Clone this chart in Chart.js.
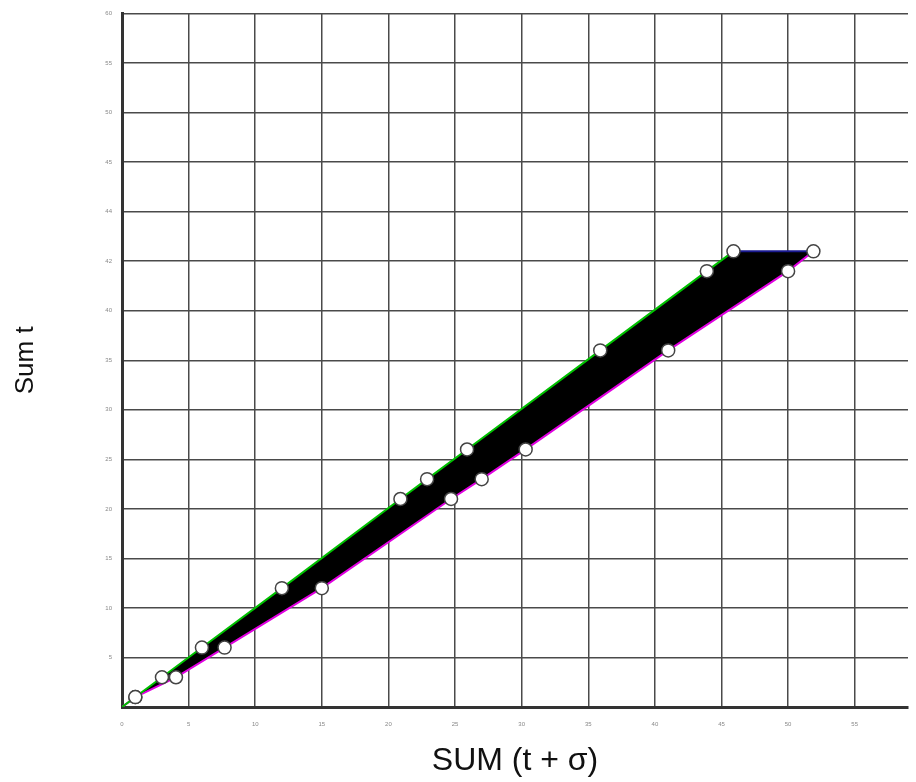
<!DOCTYPE html>
<html>
<head>
<meta charset="utf-8">
<script src="https://cdn.jsdelivr.net/npm/chart.js@4/dist/chart.umd.min.js"></script>
<style>
  html, body { margin: 0; padding: 0; background: #fff; overflow: hidden; }
  #wrap { width: 916px; height: 782px; position: relative; }
</style>
</head>
<body>
<div id="wrap"><canvas id="grafico"></canvas></div>
<script>
// Sum t (asse y), uguale per le due serie
const sommaT = [0, 1, 3, 6, 12, 21, 23, 26, 36, 44, 46];
// ascisse della serie superiore (verde) e inferiore (magenta)
const xSuperiore = [0, 1, 3, 6, 12, 20.9, 22.9, 25.9, 35.9, 43.9, 45.9];
const xInferiore = [0, 1, 4.05, 7.7, 15, 24.7, 27, 30.3, 41, 50, 51.9];

const xTicks = [0, 5, 10, 15, 20, 25, 30, 35, 40, 45, 50, 55, 60];
const xMax = 59; // il 60 resta fuori dal bordo destro
const yTickLabels = ['', '5', '10', '15', '20', '25', '30', '35', '40', '42', '44', '45', '50', '55', '60'];

const puntiSup = xSuperiore.map((x, i) => ({ x: x, y: sommaT[i] }));
const puntiInf = xInferiore.map((x, i) => ({ x: x, y: sommaT[i] }));
// poligono nero tra le due linee
const poligono = puntiSup.concat(puntiInf.slice().reverse());
// segmento blu in alto
const ultimo = sommaT.length - 1;
const segmentoTop = [puntiSup[ultimo], puntiInf[ultimo]];

const raggi = sommaT.map((v, i) => i === 0 ? 0 : 6.5);

const stilePunti = {
    pointBackgroundColor: '#ffffff',
    pointBorderColor: '#444444',
    pointBorderWidth: 1.5,
    pointRadius: raggi,
    pointHoverRadius: raggi
};

const ctx = document.getElementById('grafico').getContext('2d');
new Chart(ctx, {
    type: 'line',
    data: {
        datasets: [
            Object.assign({
                label: 'Sum t',
                data: puntiSup,
                borderColor: '#00c000',
                borderWidth: 2,
                fill: false,
                tension: 0,
                order: 1
            }, stilePunti),
            Object.assign({
                label: 'SUM (t + σ)',
                data: puntiInf,
                borderColor: '#e000e0',
                borderWidth: 2,
                fill: false,
                tension: 0,
                order: 2
            }, stilePunti),
            {
                label: 'top',
                data: segmentoTop,
                borderColor: '#1a1a90',
                borderWidth: 2,
                pointRadius: 0,
                fill: false,
                order: 3
            },
            {
                label: 'area',
                data: poligono,
                borderWidth: 0,
                borderColor: '#000000',
                backgroundColor: '#000000',
                pointRadius: 0,
                fill: 'shape',
                tension: 0,
                order: 10
            }
        ]
    },
    options: {
        responsive: true,
        maintainAspectRatio: false,
        animation: false,
        layout: {
            padding: { top: 12, right: 0, left: 0, bottom: 0 }
        },
        plugins: {
            legend: { display: false },
            tooltip: { enabled: false }
        },
        scales: {
            x: {
                type: 'linear',
                min: 0,
                max: xMax,
                afterBuildTicks: function(scale) {
                    scale.ticks = xTicks.filter(v => v <= xMax).map(v => ({ value: v }));
                },
                afterFit: function(scale) {
                    scale.height = 75;
                },
                ticks: {
                    color: '#888',
                    font: { size: 6, family: 'Liberation Sans' },
                    padding: 14,
                    maxRotation: 0,
                    autoSkip: false
                },
                grid: {
                    color: '#4a4a4a',
                    lineWidth: 1.5,
                    drawTicks: false
                },
                border: {
                    color: '#333',
                    width: 3
                },
                title: {
                    display: true,
                    text: 'SUM (t + σ)',
                    color: '#111',
                    font: { size: 32, family: 'Liberation Sans' },
                    padding: { top: 0, bottom: 2 }
                }
            },
            y: {
                type: 'linear',
                min: 0,
                max: 70,
                ticks: {
                    stepSize: 5,
                    color: '#888',
                    font: { size: 6, family: 'Liberation Sans' },
                    padding: 10,
                    autoSkip: false,
                    callback: function(value, index) {
                        return yTickLabels[index];
                    }
                },
                afterFit: function(scale) {
                    scale.width = 122;
                },
                grid: {
                    color: '#4a4a4a',
                    lineWidth: 1.5,
                    drawTicks: false
                },
                border: {
                    color: '#333',
                    width: 3
                },
                title: {
                    display: true,
                    text: 'Sum t',
                    color: '#111',
                    font: { size: 26, family: 'Liberation Sans' },
                    padding: { top: 10, bottom: 0 }
                }
            }
        }
    }
});
</script>
</body>
</html>
